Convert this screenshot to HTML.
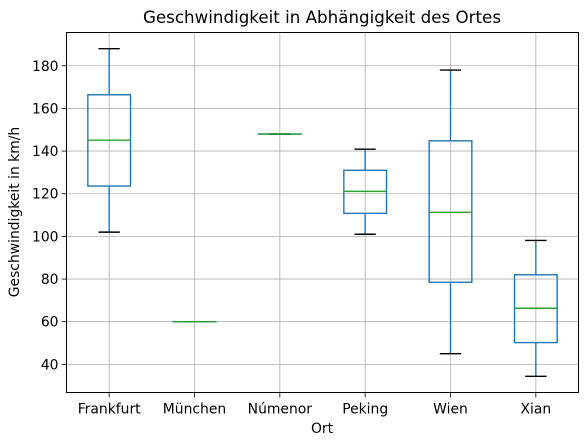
<!DOCTYPE html>
<html><head><meta charset="utf-8"><style>
html,body{margin:0;padding:0;background:#fff;}
svg{display:block;font-family:"DejaVu Sans","Liberation Sans",sans-serif;}
</style></head><body>
<svg id="chart" width="587" height="445" viewBox="0 0 587 445">
<text x="322" y="23" text-anchor="middle" font-size="16.7" fill="#000">Geschwindigkeit in Abhängigkeit des Ortes</text>
<text x="322" y="433" text-anchor="middle" font-size="13.9" fill="#000">Ort</text>
<text transform="translate(19,212) rotate(-90)" text-anchor="middle" font-size="13.9" fill="#000">Geschwindigkeit in km/h</text>
<g id="grid"></g><g id="boxes"></g><g id="axes"></g>
</svg>
<script>
const categories = ["Frankfurt","München","Númenor","Peking","Wien","Xian"];
const whiskerLow = [102, 60, 148, 101, 45, 34.4];
const q1 = [123.6, 60, 148, 110.8, 78.5, 50.2];
const medians = [145.1, 60, 148, 121.1, 111.3, 66.3];
const q3 = [166.4, 60, 148, 131, 144.8, 82];
const whiskerHigh = [188, 60, 148, 140.9, 178, 98.1];
const yTicks = [40, 60, 80, 100, 120, 140, 160, 180];

const L = 66.5, R = 578.5, T = 32.5, B = 392.5;
const yMin = 26.8, yMax = 195.6;
const NS = "http://www.w3.org/2000/svg";
function y(v){ return B - (v - yMin) / (yMax - yMin) * (B - T); }
const step = (R - L) / categories.length;
function x(i){ return L + (i + 0.5) * step; }
function mk(tag, attrs, parent){
  const e = document.createElementNS(NS, tag);
  for (const k in attrs) e.setAttribute(k, attrs[k]);
  parent.appendChild(e); return e;
}
const grid = document.getElementById('grid');
const boxes = document.getElementById('boxes');
const axes = document.getElementById('axes');

yTicks.forEach(t => {
  const g = mk('line', {x1:L, x2:R, y1:y(t), y2:y(t), stroke:'#b0b0b0', 'stroke-width':0.8}, grid);
  
  
  const tk = mk('line', {x1:L-4.9, x2:L, y1:y(t), y2:y(t), stroke:'#000', 'stroke-width':0.8}, axes);
  
  
  const lb = mk('text', {x:L-8, y:y(t)+5, 'text-anchor':'end', 'font-size':13.9, fill:'#000'}, axes);
  lb.textContent = t;
  
  
});
categories.forEach((c, i) => {
  const cx = x(i);
  const g = mk('line', {x1:cx, x2:cx, y1:T, y2:B, stroke:'#b0b0b0', 'stroke-width':0.8}, grid);
  
  
  const tk = mk('line', {x1:cx, x2:cx, y1:B, y2:B+4.9, stroke:'#000', 'stroke-width':0.8}, axes);
  
  
  const lb = mk('text', {x:cx, y:B+21, 'text-anchor':'middle', 'font-size':13.9, fill:'#000'}, axes);
  lb.textContent = c;
  
  

  const g2 = mk('g', {}, boxes);
  
  
  const hw = step * 0.25, cw = step * 0.125;
  const col = '#1f77b4';
  mk('line', {x1:cx, x2:cx, y1:y(q3[i]), y2:y(whiskerHigh[i]), stroke:col, 'stroke-width':1.4}, g2);
  mk('line', {x1:cx, x2:cx, y1:y(q1[i]), y2:y(whiskerLow[i]), stroke:col, 'stroke-width':1.4}, g2);
  mk('line', {x1:cx-cw, x2:cx+cw, y1:y(whiskerHigh[i]), y2:y(whiskerHigh[i]), stroke:'#000', 'stroke-width':1.4}, g2);
  mk('line', {x1:cx-cw, x2:cx+cw, y1:y(whiskerLow[i]), y2:y(whiskerLow[i]), stroke:'#000', 'stroke-width':1.4}, g2);
  mk('rect', {x:cx-hw, y:y(q3[i]), width:2*hw, height:Math.max(0.01, y(q1[i])-y(q3[i])), fill:'none', stroke:col, 'stroke-width':1.4}, g2);
  mk('line', {x1:cx-hw, x2:cx+hw, y1:y(medians[i]), y2:y(medians[i]), stroke:'#2ca02c', 'stroke-width':1.4}, g2);
});
const frame = mk('rect', {x:L, y:T, width:R-L, height:B-T, fill:'none', stroke:'#000', 'stroke-width':1}, axes);


</script>
</body></html>
